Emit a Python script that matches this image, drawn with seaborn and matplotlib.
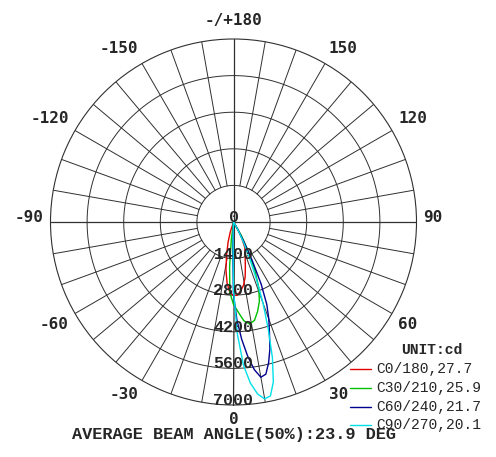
import numpy as np
import pandas as pd
import matplotlib
matplotlib.use('Agg')
import matplotlib.pyplot as plt
from matplotlib.lines import Line2D
from matplotlib.transforms import offset_copy
import seaborn as sns

# ------------------------
# Data (gamma angle in degrees, intensity in cd)
# ------------------------
c0_angle = [-22, -18, -15, -12, -9, -6, -3, 0, 3, 6, 9, 12, 15, 18, 21, 24, 27, 30, 34]
c0_cd = [0, 400, 800, 1250, 1850, 2350, 2700, 2820, 2800, 2650, 2450, 2150, 1750, 1450, 1250, 1050, 700, 350, 0]

c30_angle = [-10, -7, -5, -3, 0, 3, 6, 9, 12, 15, 18, 21, 24, 27, 30, 34]
c30_cd = [0, 700, 1700, 2700, 3150, 3450, 3800, 3950, 3850, 3550, 3200, 2700, 2000, 1200, 600, 0]

c60_angle = [-4, -2, 0, 2, 4, 6, 8, 10, 12, 14, 16, 18, 20, 22, 24, 26, 28, 30, 33]
c60_cd = [0, 900, 2800, 3750, 4500, 5150, 5700, 6030, 5950, 5550, 5050, 4450, 3950, 3400, 2600, 1600, 800, 300, 0]

c90_angle = [-4, -2, 0, 2, 4, 6, 8, 10, 12, 14, 16, 18, 20, 22, 24, 26, 28, 30, 33]
c90_cd = [0, 600, 2600, 4300, 5500, 6200, 6650, 6870, 6800, 6300, 5400, 4300, 3300, 2300, 1500, 900, 500, 250, 0]

series_names = ['C0/180,27.7', 'C30/210,25.9', 'C60/240,21.7', 'C90/270,20.1']
series_colors = ['#e00000', '#00c000', '#000090', '#00e0e8']

radial_ticks = [1400, 2800, 4200, 5600, 7000]
angle_ticks = [-150, -120, -90, -60, -30, 0, 30, 60, 90, 120, 150, 180]
beam_text = 'AVERAGE BEAM ANGLE(50%):23.9 DEG'
unit_text = 'UNIT:cd'

# long table for seaborn
frames = []
for name, ang, cd in zip(series_names,
                         [c0_angle, c30_angle, c60_angle, c90_angle],
                         [c0_cd, c30_cd, c60_cd, c90_cd]):
    frames.append(pd.DataFrame({'theta': np.deg2rad(ang), 'cd': cd, 'plane': name}))
df = pd.concat(frames, ignore_index=True)

sns.set_style('white')

W, H = 496, 457
fig = plt.figure(figsize=(W / 100, H / 100), dpi=100)
fig.patch.set_facecolor('white')

# polar area: centre (233.5, 222) px, radius 183 px
cx, cy, R = 233.5, 222, 183
ax = fig.add_axes([(cx - R) / W, 1 - (cy + R) / H, 2 * R / W, 2 * R / H], projection='polar')
ax.set_theta_zero_location('S')
ax.set_theta_direction(1)
ax.set_ylim(0, 7000)
ax.set_facecolor('white')

grid_col = '#303030'
ax.set_yticks(radial_ticks[:-1])
ax.set_yticklabels([])
ax.set_xticks([])
ax.grid(False)
ax.spines['polar'].set_color(grid_col)
ax.spines['polar'].set_linewidth(0.8)

# circles
tt = np.linspace(0, 2 * np.pi, 361)
for r in radial_ticks[:-1]:
    ax.plot(tt, np.full_like(tt, r), color=grid_col, lw=0.7, zorder=1)

# spokes every 10 deg starting at the inner circle, main axes through centre
for a in range(0, 360, 10):
    r0 = 0 if a % 90 == 0 else radial_ticks[0]
    ax.plot([np.deg2rad(a)] * 2, [r0, 7000], color=grid_col,
            lw=0.9 if a % 90 == 0 else 0.7, zorder=1)

sns.lineplot(data=df, x='theta', y='cd', hue='plane', palette=series_colors,
             hue_order=series_names, sort=False, estimator=None, lw=1.0,
             legend=False, ax=ax, zorder=3)
ax.set_xlabel('')
ax.set_ylabel('')
ax.set_ylim(0, 7000)

# radial labels along the 0 line
ax.text(0, 0, '0', ha='center', va='baseline', fontsize=12,
        family='Liberation Mono', fontweight='bold', zorder=5)
for r in radial_ticks:
    ax.text(0, r, str(r), ha='center', va='baseline', fontsize=12,
            family='Liberation Mono', fontweight='bold', zorder=5)

# angle labels outside, anchored like the original software
r_lab = 7000 * 190 / 183
for a in angle_ticks:
    lab = '-/+180' if a == 180 else str(a)
    if a in (0, 180):
        ha = 'center'
    elif a > 0:
        ha = 'left'
    else:
        ha = 'right'
    va = 'baseline' if abs(a) >= 90 else 'top'
    lift = 7 if a == 180 else (4 if abs(a) > 90 else 0)
    tr = offset_copy(ax.transData, fig=fig, x=0, y=lift, units='dots')
    ax.text(np.deg2rad(a), r_lab, lab, ha=ha, va=va, fontsize=11.5,
            family='DejaVu Sans Mono', fontweight='bold', clip_on=False,
            transform=tr)

# legend drawn in figure pixels
fig.text(432 / W, 1 - 350 / H, unit_text, ha='center', va='center', fontsize=10.5,
         family='Liberation Mono', fontweight='bold')
for i, (name, col) in enumerate(zip(series_names, series_colors)):
    y = 1 - (369 + i * 18.8) / H
    fig.add_artist(Line2D([350 / W, 371 / W], [y, y], color=col, lw=1.0))
    fig.text(376 / W, y, name, ha='left', va='center', fontsize=10.5,
             family='Liberation Mono')

fig.text(72 / W, 1 - 434 / H, beam_text, ha='left', va='center', fontsize=12.2,
         family='Liberation Mono', fontweight='bold')

fig.savefig('out.png', dpi=100, facecolor='white')
